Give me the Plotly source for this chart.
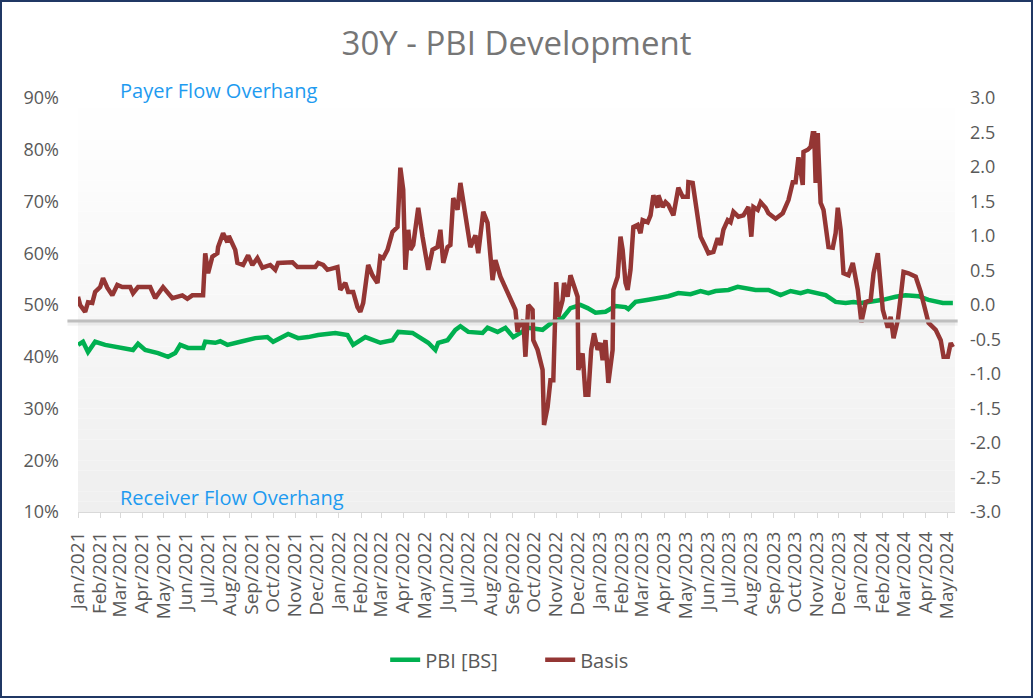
import pandas as pd
import plotly.graph_objects as go

START = pd.Timestamp("2021-01-01")

# Basis (right axis): day offsets from 2021-01-01 and values
basis_days = [0, 3, 10, 14, 20, 24, 31, 35, 41, 48, 55, 62, 73, 77, 84, 101, 108, 119, 132, 146, 153, 160, 175, 178, 182,
              188, 195, 196, 203, 209, 211, 220, 223, 231, 238, 244, 251, 258, 269, 276, 280, 300, 307, 314, 332, 336, 343,
              349, 363, 367, 374, 378, 385, 391, 395, 399, 406, 412, 419, 423, 427, 433, 440, 447, 451, 455, 458, 462, 465,
              469, 476, 482, 486, 490, 496, 503, 507, 511, 517, 521, 525, 531, 535, 539, 545, 549, 556, 560, 567, 573, 580,
              584, 591, 598, 608, 612, 615, 616, 623, 626, 630, 636, 637, 643, 650, 652, 657, 661, 665, 669, 672, 678, 680,
              685, 689, 693, 699, 700, 706, 710, 714, 718, 722, 727, 731, 734, 738, 742, 748, 749, 755, 759, 762, 766, 769,
              773, 777, 783, 787, 790, 797, 801, 805, 811, 812, 818, 822, 826, 833, 840, 846, 853, 854, 860, 864, 871, 878,
              882, 889, 895, 899, 903, 909, 913, 917, 924, 931, 938, 942, 945, 951, 955, 962, 966, 976, 986, 994, 1000,
              1004, 1008, 1014, 1015, 1021, 1025, 1028, 1030, 1032, 1035, 1036, 1039, 1043, 1050, 1056, 1060, 1063, 1067,
              1071, 1078, 1084, 1091, 1096, 1102, 1109, 1113, 1119, 1121, 1126, 1133, 1137, 1141, 1147, 1151, 1155, 1162,
              1172, 1179, 1186, 1190, 1200, 1207, 1211, 1217, 1221, 1224]
basis_vals = [0.12, 0.00, -0.10, 0.04, 0.03, 0.19, 0.26, 0.39, 0.25, 0.14, 0.29, 0.26, 0.26, 0.17, 0.26, 0.26, 0.10, 0.26,
              0.10, 0.14, 0.09, 0.14, 0.14, 0.75, 0.46, 0.70, 0.75, 0.84, 1.04, 0.91, 1.00, 0.80, 0.61, 0.58, 0.72, 0.58,
              0.68, 0.54, 0.58, 0.51, 0.61, 0.62, 0.55, 0.55, 0.55, 0.61, 0.58, 0.51, 0.55, 0.22, 0.32, 0.19, 0.19, -0.03,
              -0.10, 0.03, 0.58, 0.43, 0.32, 0.70, 0.68, 0.80, 1.06, 1.13, 1.99, 1.67, 0.51, 1.09, 0.80, 0.87, 1.41, 0.99,
              0.75, 0.51, 0.80, 0.84, 1.09, 0.61, 0.84, 0.87, 1.55, 1.38, 1.77, 1.52, 1.13, 0.84, 1.01, 0.75, 1.35, 1.19,
              0.36, 0.65, 0.41, 0.26, 0.03, -0.07, -0.39, -0.32, -0.22, -0.75, 0.00, -0.07, -0.51, -0.65, -0.94, -1.74,
              -1.48, -1.09, -1.09, 0.33, -0.17, 0.07, 0.32, 0.12, 0.43, 0.32, 0.12, -0.94, -0.70, -1.30, -1.30, -0.65,
              -0.41, -0.65, -0.55, -0.80, -0.51, -1.13, -0.65, 0.22, 0.41, 0.99, 0.80, 0.32, 0.22, 0.51, 1.13, 1.16, 1.04,
              1.23, 1.20, 1.30, 1.59, 1.41, 1.59, 1.42, 1.49, 1.45, 1.30, 1.70, 1.57, 1.57, 1.78, 1.77, 1.52, 0.99, 0.84,
              0.75, 0.77, 0.97, 0.87, 1.09, 1.23, 1.20, 1.35, 1.28, 1.30, 1.42, 0.99, 1.42, 1.38, 1.49, 1.41, 1.33, 1.25,
              1.33, 1.52, 1.78, 1.78, 2.14, 1.74, 2.22, 2.25, 2.29, 2.49, 2.49, 1.77, 2.49, 2.20, 1.48, 1.38, 0.84, 0.83,
              1.04, 1.41, 1.09, 0.46, 0.43, 0.61, 0.22, -0.25, 0.04, 0.07, 0.46, 0.75, 0.51, -0.07, -0.33, -0.17, -0.48,
              -0.22, 0.12, 0.48, 0.46, 0.41, 0.19, -0.07, -0.26, -0.36, -0.51, -0.75, -0.75, -0.55, -0.61]

# PBI [BS] (left axis, %): day offsets and values
pbi_days = [0, 7, 14, 24, 38, 56, 77, 84, 94, 112, 126, 136, 143, 154, 175, 178, 192, 199, 209, 230, 248, 265, 273, 294,
            308, 322, 336, 360, 377, 385, 402, 423, 440, 448, 468, 490, 500, 504, 517, 528, 535, 546, 566, 573, 587, 598,
            609, 619, 630, 650, 664, 678, 689, 703, 713, 724, 738, 752, 766, 770, 780, 798, 826, 840, 857, 871, 882, 892,
            910, 923, 948, 966, 983, 997, 1011, 1021, 1032, 1046, 1060, 1074, 1085, 1095, 1106, 1126, 1144, 1158, 1176,
            1190, 1210, 1224]
pbi_vals = [42.3, 42.9, 40.9, 42.9, 42.3, 41.9, 41.3, 42.5, 41.3, 40.7, 40.0, 40.7, 42.3, 41.7, 41.7, 42.9, 42.7, 43.0,
            42.3, 43.0, 43.6, 43.8, 42.9, 44.4, 43.6, 43.8, 44.2, 44.6, 44.2, 42.3, 43.8, 42.7, 43.2, 44.8, 44.6, 42.7,
            41.3, 42.7, 43.2, 45.2, 45.9, 44.8, 44.6, 45.6, 44.8, 45.6, 43.8, 44.6, 45.6, 45.2, 46.7, 47.5, 49.4, 50.0,
            49.4, 48.5, 48.7, 49.8, 49.6, 49.2, 50.6, 51.0, 51.7, 52.3, 52.1, 52.7, 52.3, 52.7, 52.9, 53.5, 52.9, 52.9,
            51.9, 52.7, 52.3, 52.7, 52.3, 51.9, 50.6, 50.4, 50.6, 50.4, 50.6, 51.0, 51.6, 51.9, 51.7, 51.0, 50.4, 50.4]

basis_dates = START + pd.to_timedelta(basis_days, unit="D")
pbi_dates = START + pd.to_timedelta(pbi_days, unit="D")

tick_dates = pd.date_range("2021-01-01", "2024-05-01", freq="MS")
left_ticks = [10, 20, 30, 40, 50, 60, 70, 80, 90]
left_labels = [f"{v}%" for v in left_ticks]
right_ticks = [-3.0, -2.5, -2.0, -1.5, -1.0, -0.5, 0.0, 0.5, 1.0, 1.5, 2.0, 2.5, 3.0]
right_labels = [f"{v:.1f}" for v in right_ticks]
divider_level = 46.9

FONT = "Open Sans"
TXT = "#595959"

fig = go.Figure()
fig.add_trace(go.Scatter(x=pbi_dates, y=pbi_vals, mode="lines", name="PBI [BS]",
                         line=dict(color="#00B050", width=4.5), yaxis="y"))
fig.add_trace(go.Scatter(x=basis_dates, y=basis_vals, mode="lines", name="Basis",
                         line=dict(color="#943634", width=4.5), yaxis="y2"))

shapes = []
# gradient background of plot area
N = 40
for i in range(N):
    t = (i + 0.5) / N
    g = int(round(239 + 16 * t))
    shapes.append(dict(type="rect", xref="paper", yref="paper", x0=0, x1=1, y0=i / N, y1=(i + 1) / N,
                       fillcolor=f"rgb({g},{g},{g})", line=dict(width=0), layer="below"))
# divider with soft shadow
shapes.append(dict(type="line", xref="paper", yref="y", x0=-0.012, x1=1.003, y0=divider_level - 0.35,
                   y1=divider_level - 0.35, line=dict(color="rgba(0,0,0,0.05)", width=6), layer="below"))
shapes.append(dict(type="line", xref="paper", yref="y", x0=-0.012, x1=1.003, y0=divider_level, y1=divider_level,
                   line=dict(color="#BFBFBF", width=3), layer="above"))
# outer border
shapes.append(dict(type="rect", xref="paper", yref="paper", x0=-0.0878, x1=1.0878, y0=-0.4469, y1=1.2343,
                   line=dict(color="#203864", width=2), fillcolor="rgba(0,0,0,0)"))

fig.update_layout(
    width=1033, height=698,
    margin=dict(l=78, r=78, t=98, b=186, autoexpand=False),
    paper_bgcolor="white", plot_bgcolor="white",
    font=dict(family=FONT, color=TXT, size=16),
    title=dict(text="30Y - PBI Development", x=0.5, xanchor="center", y=0.938, yanchor="middle",
               font=dict(family=FONT, size=33, color="#767676")),
    xaxis=dict(type="date", range=["2021-01-01", "2024-05-12"], tickvals=tick_dates, tickformat="%b/%Y",
               tickangle=-90, ticks="outside", ticklen=5, tickcolor="#D9D9D9", showline=True,
               linecolor="#D9D9D9", linewidth=1, showgrid=False, zeroline=False, ticklabelstandoff=6,
               tickfont=dict(family=FONT, size=19, color=TXT)),
    yaxis=dict(range=[10, 90], tickvals=left_ticks, ticktext=left_labels, showgrid=False, zeroline=False,
               showline=False, ticklabelstandoff=18, tickfont=dict(family=FONT, size=18, color=TXT)),
    yaxis2=dict(range=[-3, 3], tickvals=right_ticks, ticktext=right_labels, overlaying="y", side="right",
                showgrid=False, zeroline=False, showline=False, ticklabelstandoff=14,
                tickfont=dict(family=FONT, size=18, color=TXT)),
    legend=dict(orientation="h", x=0.527, xanchor="center", y=-0.357, yanchor="middle", entrywidth=110,
                font=dict(family=FONT, size=20, color=TXT), bgcolor="rgba(0,0,0,0)"),
    shapes=shapes,
    annotations=[
        dict(text="Payer Flow Overhang", xref="paper", yref="paper", x=0.0456, y=1.019, xanchor="left",
             yanchor="middle", showarrow=False, font=dict(family=FONT, size=20, color="#1E9BF0")),
        dict(text="Receiver Flow Overhang", xref="paper", yref="paper", x=0.0456, y=0.036, xanchor="left",
             yanchor="middle", showarrow=False, font=dict(family=FONT, size=20, color="#1E9BF0")),
    ],
)

fig.write_html("out.html", config={"displayModeBar": False},
               post_script="document.body.style.margin='0';document.body.style.overflow='hidden';")
